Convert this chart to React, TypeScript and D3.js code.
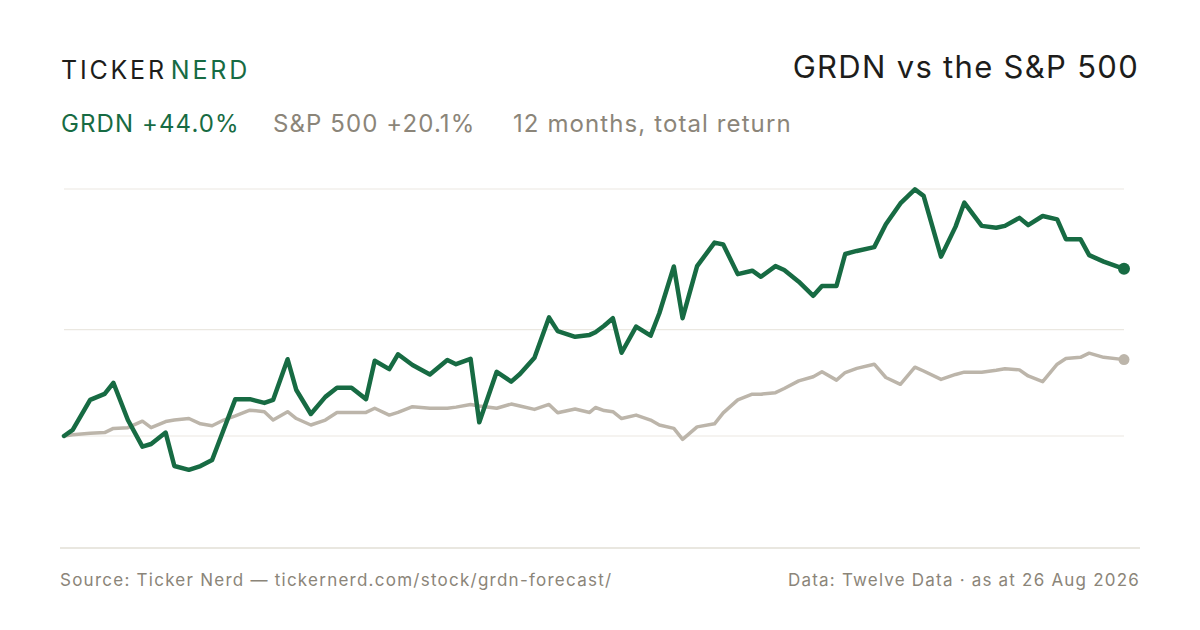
import React from "react";
import * as d3 from "d3";

// 12 months, total return, both series rebased to 0% on the start date
const startDate = new Date(2025, 7, 26);

const dayOffsets = [
  0, 3, 9, 14, 17, 22, 27, 30, 35, 38,
  43, 47, 51, 55, 59, 64, 69, 72, 77, 80,
  85, 90, 94, 99, 104, 107, 112, 115, 120, 126,
  132, 135, 140, 143, 149, 154, 157, 162, 167, 170,
  176, 181, 183, 186, 189, 192, 197, 202, 205, 210,
  213, 218, 224, 227, 232, 237, 240, 245, 248, 253,
  258, 261, 266, 269, 273, 279, 283, 288, 293, 296,
  302, 307, 310, 316, 321, 324, 329, 332, 337, 342,
  345, 350, 353, 358, 365,
];

const grdnReturns = [
  0.0, 1.6, 9.5, 11.1, 14.0, 4.2, -2.8, -2.1, 0.9, -7.9,
  -8.9, -7.9, -6.3, 1.7, 9.7, 9.7, 8.7, 9.5, 20.2, 12.1,
  5.8, 10.3, 12.7, 12.7, 9.7, 19.8, 17.6, 21.5, 18.7, 16.2,
  20.0, 18.9, 20.3, 3.6, 16.9, 14.3, 16.3, 20.6, 31.2, 27.6,
  26.1, 26.6, 27.3, 29.0, 31.0, 21.9, 28.8, 26.4, 32.3, 44.6,
  31.0, 44.7, 50.9, 50.4, 42.6, 43.5, 41.9, 44.7, 43.7, 40.6,
  36.9, 39.5, 39.5, 47.9, 48.7, 49.7, 55.7, 61.2, 64.9, 63.2,
  47.2, 55.1, 61.4, 55.3, 54.8, 55.3, 57.4, 55.5, 57.9, 57.0,
  51.8, 51.8, 47.6, 45.9, 44.0,
];

const spxReturns = [
  0.0, 0.3, 0.7, 0.9, 2.0, 2.2, 3.9, 2.2, 3.8, 4.2,
  4.6, 3.2, 2.7, 4.2, 5.3, 6.8, 6.4, 4.2, 6.4, 4.6,
  2.9, 4.2, 6.2, 6.2, 6.2, 7.3, 5.5, 6.2, 7.7, 7.3,
  7.3, 7.6, 8.3, 7.9, 7.3, 8.4, 7.9, 7.0, 8.3, 6.1,
  7.1, 6.2, 7.5, 6.7, 6.4, 4.6, 5.5, 4.2, 2.9, 2.0,
  -0.9, 2.4, 3.2, 6.1, 9.5, 11.0, 11.0, 11.4, 12.5, 14.5,
  15.6, 16.9, 14.7, 16.7, 17.8, 18.9, 15.4, 13.6, 18.1, 17.1,
  14.9, 16.2, 16.8, 16.8, 17.3, 17.7, 17.4, 15.8, 14.3, 18.9,
  20.4, 20.7, 21.8, 20.7, 20.1,
];

const gridReturns = [0, 28, 65];

const GREEN = "#176b43";
const GREY_LINE = "#bcb5aa";
const GREY_TEXT = "#8b8579";

type Pt = { date: Date; v: number };

const App: React.FC = () => {
  const width = 1200;
  const height = 630;

  const dates = dayOffsets.map((d) => d3.timeDay.offset(startDate, d));
  const grdn: Pt[] = dates.map((date, i) => ({ date, v: grdnReturns[i] }));
  const spx: Pt[] = dates.map((date, i) => ({ date, v: spxReturns[i] }));

  const x = d3
    .scaleTime()
    .domain([dates[0], dates[dates.length - 1]])
    .range([64, 1124]);
  const y = d3.scaleLinear().domain([-30, 70]).range([550, 170]);

  const line = d3
    .line<Pt>()
    .x((d) => x(d.date))
    .y((d) => y(d.v))
    .curve(d3.curveLinear);

  const lastG = grdn[grdn.length - 1];
  const lastS = spx[spx.length - 1];

  return (
    <>
      <style>{"body{margin:0}"}</style>
      <svg
        width={width}
        height={height}
        style={{ display: "block", background: "#fff", fontFamily: "Inter, 'Noto Sans', sans-serif" }}
      >
        {/* header */}
        <text x={61} y={79} fontSize={25} letterSpacing={2.8} fill="#1d1d1b">
          TICKER<tspan fill={GREEN} dx={4}>NERD</tspan>
        </text>
        <text x={1139} y={78} fontSize={31} letterSpacing={1.3} textAnchor="end" fill="#1d1d1b">
          GRDN vs the S&amp;P 500
        </text>
        <text y={132} fontSize={24} letterSpacing={1.1}>
          <tspan x={61} fill={GREEN}>GRDN +44.0%</tspan>
          <tspan x={273} fill={GREY_TEXT}>S&amp;P 500 +20.1%</tspan>
          <tspan x={513} fill={GREY_TEXT}>12 months, total return</tspan>
        </text>

        {/* gridlines */}
        {gridReturns.map((g) => (
          <line key={g} x1={64} x2={1124} y1={y(g)} y2={y(g)} stroke="#ebe8e1" strokeWidth={1.2} />
        ))}

        {/* series */}
        <path d={line(spx) ?? ""} fill="none" stroke={GREY_LINE} strokeWidth={3.5} strokeLinejoin="round" strokeLinecap="round" />
        <path d={line(grdn) ?? ""} fill="none" stroke={GREEN} strokeWidth={4.5} strokeLinejoin="round" strokeLinecap="round" />
        <circle cx={x(lastS.date)} cy={y(lastS.v)} r={5.5} fill={GREY_LINE} />
        <circle cx={x(lastG.date)} cy={y(lastG.v)} r={6} fill={GREEN} />

        {/* footer */}
        <line x1={60} x2={1140} y1={548} y2={548} stroke="#e2dfd6" strokeWidth={1.5} />
        <text x={60} y={586} fontSize={17} letterSpacing={1.25} fill={GREY_TEXT}>
          Source: Ticker Nerd — tickernerd.com/stock/grdn-forecast/
        </text>
        <text x={1140} y={586} fontSize={17} letterSpacing={1.2} textAnchor="end" fill={GREY_TEXT}>
          Data: Twelve Data · as at 26 Aug 2026
        </text>
      </svg>
    </>
  );
};

export default App;
